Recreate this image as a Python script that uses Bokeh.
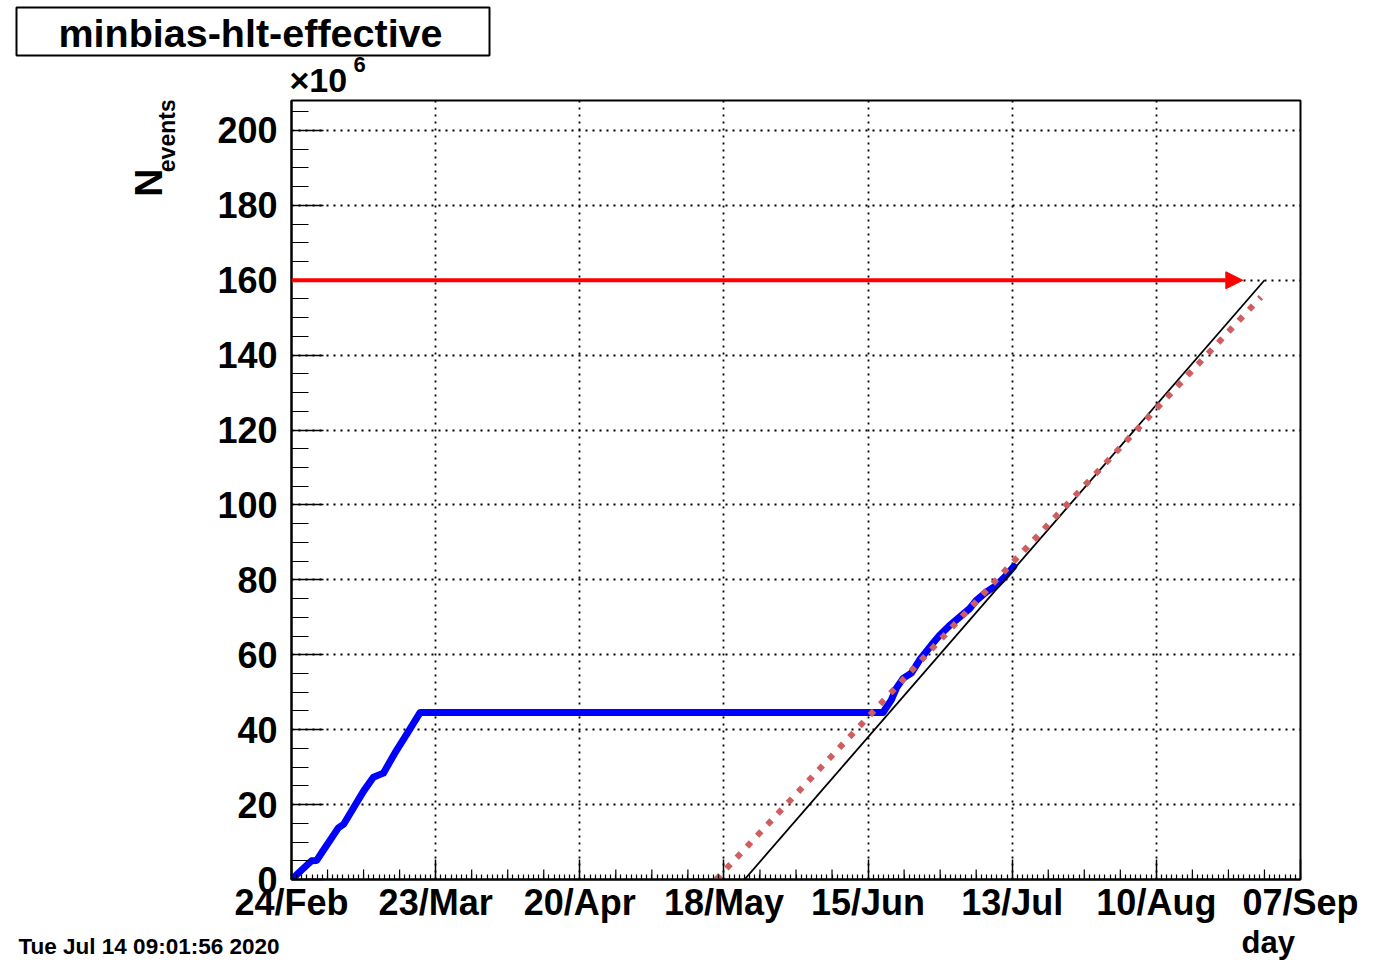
import math
from bokeh.plotting import figure
from bokeh.layouts import column, row
from bokeh.models import FixedTicker, Arrow, NormalHead, Range1d
from bokeh.core.properties import value
from bokeh.embed import file_html
from bokeh.resources import INLINE

# ---------------- data ----------------
title_text = "minbias-hlt-effective"
timestamp_text = "Tue Jul 14 09:01:56 2020"
x_title = "day"
y_title_main = "N"
y_title_sub = "events"
y_multiplier = "\u00d710"
y_exponent = "6"

# x axis: days since 24/Feb/2020
x_tick_days = [0, 28, 56, 84, 112, 140, 168, 196]
x_tick_labels = ["24/Feb", "23/Mar", "20/Apr", "18/May", "15/Jun", "13/Jul", "10/Aug", "07/Sep"]
y_ticks = [0, 20, 40, 60, 80, 100, 120, 140, 160, 180, 200]

# accumulated events (x 10^6)
blue_days = [0.0, 3.9, 4.9, 5.9, 9.1, 10.1, 14.0, 15.9, 17.85, 20.1, 22.7, 25.0,
             114.9, 116.5, 117.5, 118.8, 120.4, 122.0, 124.3, 125.9, 127.9, 129.8,
             131.7, 133.0, 135.0, 136.9, 138.5, 140.3]
blue_vals = [0.0, 5.0, 5.1, 7.2, 13.8, 14.7, 23.6, 27.3, 28.4, 33.8, 39.5, 44.6,
             44.6, 47.9, 51.1, 53.7, 55.1, 58.6, 62.6, 65.2, 67.9, 70.1,
             72.3, 74.5, 76.8, 78.5, 80.7, 83.6]

# required trend (black) and fitted trend (red dotted)
trend_days = [88.0, 189.0]
trend_vals = [0.0, 160.0]
fit_days = [82.5, 188.3]
fit_vals = [0.0, 155.5]

# goal arrow
goal_value = 160.0
goal_day_start = 0.0
goal_day_end = 184.8

X_MIN, X_MAX = 0.0, 196.0
Y_MIN, Y_MAX = 0.0, 208.0

# ---------------- geometry (pixels) ----------------
W, H = 1365, 960
FRAME_L, FRAME_R, FRAME_T, FRAME_B = 291, 1300, 100, 882
TOP_H = 99            # strip above the plot (title box, x10^6)
BOT_Y = 925           # strip below the plot (day, timestamp)
LEFT_W = 190          # strip left of the plot (N_events)
MID_H = BOT_Y - TOP_H
BASELINE_FIX = 0.35   # em offset of the rendered alphabetic baseline

FONT = "Liberation Sans"


def make_strip(width, height):
    f = figure(width=width, height=height, output_backend="svg", toolbar_location=None,
               x_range=Range1d(0, width), y_range=Range1d(0, height),
               x_axis_type=None, y_axis_type=None, min_border=0)
    f.outline_line_color = None
    f.background_fill_color = "white"
    f.border_fill_color = "white"
    f.title.visible = False
    return f


def put_text(f, strip_top, strip_h, x, y, text, size_px, align="left", angle=0.0):
    fix = BASELINE_FIX * size_px
    if angle != 0.0:
        x = x - fix
        ys = strip_h - (y - strip_top)
    else:
        ys = strip_h - (y - strip_top) + fix
    f.text(x=[x], y=[ys], text=[text],
           text_font=value(FONT), text_font_style="bold", text_font_size=f"{size_px}px",
           text_color="black", text_align=align, text_baseline="alphabetic", angle=angle)


# ---------------- top strip ----------------
top = make_strip(W, TOP_H)
top.quad(left=[16], right=[489], top=[TOP_H - 7], bottom=[TOP_H - 55],
         fill_color="white", line_color="black", line_width=2)
put_text(top, 0, TOP_H, 250, 46, title_text, 39.5, align="center")
put_text(top, 0, TOP_H, 289, 91.5, y_multiplier, 34)
put_text(top, 0, TOP_H, 353, 72, y_exponent, 22)

# ---------------- left strip ----------------
left = make_strip(LEFT_W, MID_H)
put_text(left, TOP_H, MID_H, 162, 201, y_title_main, 39, angle=math.pi / 2)
put_text(left, TOP_H, MID_H, 175, 175, y_title_sub, 23, angle=math.pi / 2)

# ---------------- bottom strip ----------------
bottom = make_strip(W, H - BOT_Y)
put_text(bottom, BOT_Y, H - BOT_Y, 1241, 953, x_title, 31)
put_text(bottom, BOT_Y, H - BOT_Y, 18, 954, timestamp_text, 22.5)

# ---------------- main plot ----------------
p = figure(width=W - LEFT_W, height=MID_H, output_backend="svg", toolbar_location=None,
           x_range=Range1d(X_MIN, X_MAX), y_range=Range1d(Y_MIN, Y_MAX),
           min_border_left=FRAME_L - LEFT_W,
           min_border_right=W - FRAME_R,
           min_border_top=FRAME_T - TOP_H,
           min_border_bottom=BOT_Y - FRAME_B)
p.title.visible = False
p.background_fill_color = "white"
p.border_fill_color = "white"
p.outline_line_color = "black"
p.outline_line_width = 2

p.xaxis.ticker = FixedTicker(ticks=x_tick_days, minor_ticks=list(range(int(X_MIN), int(X_MAX) + 1)))
p.xaxis.major_label_overrides = {d: lab for d, lab in zip(x_tick_days, x_tick_labels)}
p.xaxis.major_tick_in = 20
p.xaxis.major_tick_out = 0
p.xaxis.minor_tick_in = 5
p.xaxis.minor_tick_out = 0
p.xaxis.major_label_standoff = 2

p.yaxis.ticker = FixedTicker(ticks=y_ticks, minor_ticks=list(range(0, 206, 5)))
p.yaxis.major_tick_in = 32
p.yaxis.major_tick_out = 0
p.yaxis.minor_tick_in = 17
p.yaxis.minor_tick_out = 0
p.yaxis.major_label_standoff = 14

for ax in (p.xaxis, p.yaxis):
    ax.axis_line_color = "black"
    ax.axis_line_width = 2
    ax.major_tick_line_color = "black"
    ax.minor_tick_line_color = "black"
    ax.major_tick_line_width = 1.5
    ax.minor_tick_line_width = 1.2
    ax.major_label_text_font = FONT
    ax.major_label_text_font_style = "bold"
    ax.major_label_text_font_size = "36px"
    ax.major_label_text_color = "black"

p.xgrid.ticker = FixedTicker(ticks=x_tick_days)
p.ygrid.ticker = FixedTicker(ticks=y_ticks)
for g in (p.xgrid, p.ygrid):
    g.grid_line_color = "black"
    g.grid_line_dash = "2 5"
    g.grid_line_width = 1.8

# medium (weekly) ticks on the x axis, 10 px long
px_per_unit_y = (FRAME_B - FRAME_T) / (Y_MAX - Y_MIN)
week_days = [d for d in range(7, int(X_MAX), 7) if d % 28 != 0]
p.segment(x0=week_days, y0=[Y_MIN] * len(week_days), x1=week_days,
          y1=[Y_MIN + 10 / px_per_unit_y] * len(week_days), line_color="black", line_width=1.2)

p.line(blue_days, blue_vals, line_color="#0000ff", line_width=7,
       line_join="round", line_cap="round")
p.line(trend_days, trend_vals, line_color="black", line_width=1.8)
p.line(fit_days, fit_vals, line_color="#cf5e61", line_width=6, line_dash="6 9")

p.add_layout(Arrow(end=NormalHead(size=17, fill_color="red", line_color="red", line_width=1),
                   x_start=goal_day_start, y_start=goal_value,
                   x_end=goal_day_end, y_end=goal_value,
                   line_color="red", line_width=4))

layout = column(top, row(left, p), bottom)
open("out.html", "w").write(file_html(layout, INLINE))
